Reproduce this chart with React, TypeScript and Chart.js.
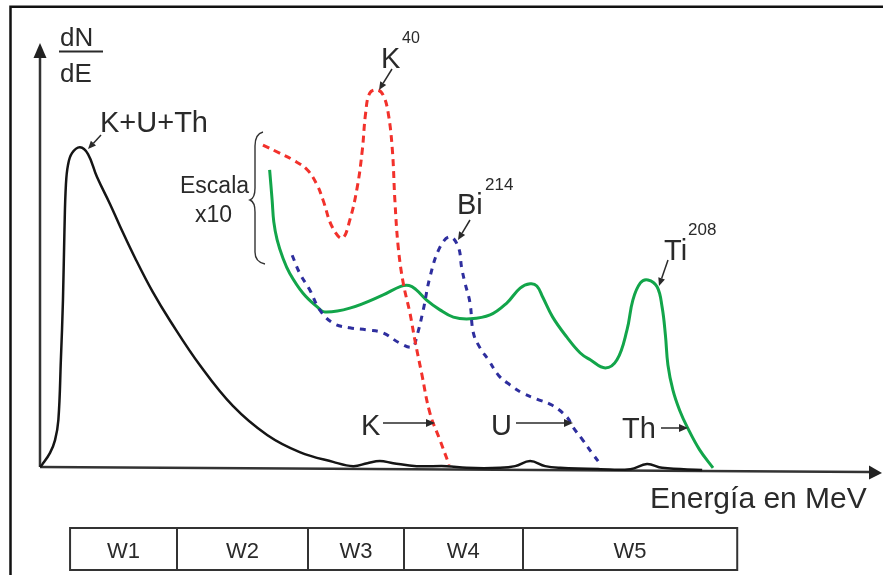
import { useEffect, useRef } from "react";
import { Chart, registerables } from "chart.js";

Chart.register(...registerables);

// Energy axis in arbitrary channel units (0 at the origin, 100 at the arrow base).
// Counts axis in arbitrary units (0 on the baseline, 100 at the top of the frame).

// Total spectrum K+U+Th
const totalEnergy = [0, 0.24, 1.2, 1.8, 2.2, 2.5, 2.75, 2.93, 3.1, 3.35, 3.83, 4.79, 5.75, 6.83, 8.38, 9.58, 11.4, 13.5, 15.6, 19.2, 23.1, 27.2, 31.1, 35.1, 37.5, 39.2, 40.7, 42.3, 45.1, 48.7, 51.1, 55.1, 56.9, 58.7, 60.5, 62.3, 67.1, 70.7, 72.7, 74.5, 79.3];
const totalCounts = [0, 0.5, 3.3, 6.3, 11.0, 25.1, 39.1, 55.5, 66.0, 70.7, 73.5, 74.9, 73.3, 67.9, 61.6, 56.4, 48.9, 41.0, 34.2, 23.7, 14.3, 7.5, 3.5, 1.2, 0.2, 0.9, 1.4, 0.9, 0.2, 0.2, -0.2, -0.2, 0.2, 1.4, 0.2, -0.2, -0.5, -0.5, 0.7, -0.2, -0.7];

// K40 spectrum (x10 scale)
const k40Energy = [26.7, 28.7, 30.3, 32.0, 33.2, 33.9, 35.0, 36.2, 37.1, 38.0, 38.6, 39.0, 39.5, 40.4, 41.1, 41.7, 42.2, 42.5, 42.9, 43.5, 44.3, 44.9, 45.7, 46.7, 47.9, 49.0];
const k40Counts = [75.4, 73.5, 71.9, 69.6, 66.0, 62.5, 56.2, 53.6, 57.8, 65.6, 74.2, 82.9, 87.6, 88.3, 87.1, 82.9, 74.2, 62.5, 51.5, 43.1, 36.1, 29.7, 22.0, 12.6, 6.3, 0.5];

// Bi214 spectrum (x10 scale)
const bi214Energy = [30.2, 31.1, 32.3, 33.5, 35.1, 37.1, 39.2, 41.1, 43.1, 44.6, 45.1, 45.9, 46.7, 47.9, 49.1, 50.1, 50.5, 50.9, 51.5, 51.9, 52.7, 53.7, 54.9, 56.3, 57.8, 59.5, 61.3, 63.1, 63.8, 65.0, 66.1, 67.1];
const bi214Counts = [49.6, 45.4, 41.5, 36.8, 33.7, 32.6, 32.1, 31.4, 29.0, 28.1, 30.4, 36.8, 44.5, 51.5, 53.9, 51.5, 46.6, 43.1, 38.4, 31.4, 27.9, 25.1, 21.5, 19.2, 17.3, 15.9, 14.5, 11.7, 9.4, 6.3, 3.3, 0.7];

// Tl208 spectrum (x10 scale)
const tl208Energy = [27.5, 27.8, 28.0, 28.4, 29.1, 29.9, 31.5, 33.2, 34.1, 37.1, 41.1, 43.2, 44.2, 45.0, 46.3, 47.9, 49.5, 51.5, 53.9, 55.9, 57.5, 58.7, 59.5, 60.2, 61.4, 63.1, 64.7, 65.9, 67.7, 69.1, 70.3, 71.0, 71.9, 72.8, 73.9, 74.5, 74.9, 75.2, 75.8, 76.6, 77.5, 79.0, 80.6];
const tl208Counts = [69.6, 62.5, 57.4, 53.2, 48.9, 45.4, 40.7, 37.5, 36.3, 37.2, 40.3, 42.3, 42.5, 41.6, 39.1, 36.8, 35.1, 34.7, 35.6, 38.4, 41.9, 42.9, 42.4, 39.8, 35.1, 30.4, 26.7, 25.1, 23.2, 25.1, 32.1, 39.1, 43.1, 43.8, 42.2, 37.5, 30.9, 23.9, 18.0, 13.3, 9.4, 4.0, -0.2];

// Energy windows shown in the table under the axis
const windowLabels = ["W1", "W2", "W3", "W4", "W5"];
const windowEdges = [3.6, 16.4, 32.1, 43.6, 57.8, 83.5];

const FONT = '"Liberation Sans", Arial, Helvetica, sans-serif';
const INK = "#2a2a2a";

const pts = (xs: number[], ys: number[]) => xs.map((x, i) => ({ x, y: ys[i] }));

function arrow(ctx: CanvasRenderingContext2D, x1: number, y1: number, x2: number, y2: number, len = 8, half = 3.5) {
  const a = Math.atan2(y2 - y1, x2 - x1);
  const bx = x2 - len * Math.cos(a);
  const by = y2 - len * Math.sin(a);
  ctx.beginPath();
  ctx.moveTo(x1, y1);
  ctx.lineTo(bx, by);
  ctx.stroke();
  ctx.beginPath();
  ctx.moveTo(x2, y2);
  ctx.lineTo(bx + half * Math.sin(a), by - half * Math.cos(a));
  ctx.lineTo(bx - half * Math.sin(a), by + half * Math.cos(a));
  ctx.closePath();
  ctx.fill();
}

function label(ctx: CanvasRenderingContext2D, text: string, x: number, y: number, size: number, align: CanvasTextAlign = "left") {
  ctx.font = `${size}px ${FONT}`;
  ctx.textAlign = align;
  ctx.textBaseline = "alphabetic";
  ctx.fillText(text, x, y);
}

const decorations = {
  id: "decorations",
  beforeDatasetsDraw(chart: Chart) {
    const { ctx } = chart;
    const xs = chart.scales.x;
    const ys = chart.scales.y;
    const x0 = xs.getPixelForValue(0);
    const y0 = ys.getPixelForValue(0);
    ctx.save();

    // outer frame (top and left edges)
    ctx.strokeStyle = "#111";
    ctx.lineWidth = 2.5;
    ctx.beginPath();
    ctx.moveTo(10.5, 575);
    ctx.lineTo(10.5, 6.8);
    ctx.lineTo(883, 6.8);
    ctx.stroke();

    // axes with arrowheads
    ctx.strokeStyle = "#333";
    ctx.fillStyle = "#222";
    ctx.lineWidth = 2.5;
    ctx.beginPath();
    ctx.moveTo(x0, y0);
    ctx.lineTo(x0, 56);
    ctx.stroke();
    ctx.beginPath();
    ctx.moveTo(x0, 43);
    ctx.lineTo(x0 - 6.5, 58);
    ctx.lineTo(x0 + 6.5, 58);
    ctx.closePath();
    ctx.fill();

    const xEnd = xs.right;
    ctx.beginPath();
    ctx.moveTo(x0, y0);
    ctx.lineTo(xEnd - 6, y0 + 5);
    ctx.stroke();
    ctx.beginPath();
    ctx.moveTo(xEnd + 7, y0 + 6);
    ctx.lineTo(xEnd - 6, y0 - 1.5);
    ctx.lineTo(xEnd - 6, y0 + 12.5);
    ctx.closePath();
    ctx.fill();
    ctx.restore();
  },
  afterDraw(chart: Chart) {
    const { ctx } = chart;
    const xs = chart.scales.x;
    ctx.save();
    ctx.fillStyle = INK;
    ctx.strokeStyle = INK;

    // dN/dE
    label(ctx, "dN", 60, 46, 26);
    label(ctx, "dE", 60, 82, 26);
    ctx.lineWidth = 2;
    ctx.beginPath();
    ctx.moveTo(59, 51.5);
    ctx.lineTo(103, 51.5);
    ctx.stroke();

    // peak labels
    label(ctx, "K+U+Th", 100, 132, 29);
    label(ctx, "K", 381, 68, 29);
    label(ctx, "40", 402, 43, 16);
    label(ctx, "Bi", 457, 214, 29);
    label(ctx, "214", 485, 190, 17);
    label(ctx, "Ti", 664, 260, 29);
    label(ctx, "208", 688, 235, 17);

    ctx.lineWidth = 1.5;
    arrow(ctx, 101, 135, 88, 149);
    arrow(ctx, 392, 69, 379, 90);
    arrow(ctx, 470, 220, 458, 240);
    arrow(ctx, 668, 260, 659, 286);

    // Escala x10 with brace
    label(ctx, "Escala", 180, 193, 23);
    label(ctx, "x10", 195, 222, 23);
    ctx.lineWidth = 1.4;
    ctx.strokeStyle = "#333";
    ctx.beginPath();
    ctx.moveTo(263, 132);
    ctx.quadraticCurveTo(255, 134, 255, 146);
    ctx.lineTo(255, 188);
    ctx.quadraticCurveTo(255, 198, 250, 200);
    ctx.quadraticCurveTo(255, 202, 255, 212);
    ctx.lineTo(255, 252);
    ctx.quadraticCurveTo(255, 262, 265, 264);
    ctx.stroke();

    // window markers near the baseline
    ctx.strokeStyle = INK;
    label(ctx, "K", 361, 435, 29);
    label(ctx, "U", 491, 435, 29);
    label(ctx, "Th", 622, 438, 29);
    ctx.lineWidth = 1.5;
    arrow(ctx, 383, 423, 435, 423, 9, 4);
    arrow(ctx, 516, 423, 573, 423, 9, 4);
    arrow(ctx, 661, 428, 688, 428, 9, 4);

    // axis title
    label(ctx, "Energía en MeV", 650, 508, 30);

    // window table
    const top = 528;
    const bottom = 570;
    ctx.strokeStyle = "#333";
    ctx.lineWidth = 2;
    const left = xs.getPixelForValue(windowEdges[0]);
    const right = xs.getPixelForValue(windowEdges[windowEdges.length - 1]);
    ctx.strokeRect(left, top, right - left, bottom - top);
    for (let i = 1; i < windowEdges.length - 1; i++) {
      const px = Math.round(xs.getPixelForValue(windowEdges[i]));
      ctx.beginPath();
      ctx.moveTo(px, top);
      ctx.lineTo(px, bottom);
      ctx.stroke();
    }
    windowLabels.forEach((w, i) => {
      const cx = (xs.getPixelForValue(windowEdges[i]) + xs.getPixelForValue(windowEdges[i + 1])) / 2;
      label(ctx, w, cx, 558, 22, "center");
    });
    ctx.restore();
  },
};

export default function App() {
  const canvasRef = useRef<HTMLCanvasElement | null>(null);

  useEffect(() => {
    const canvas = canvasRef.current;
    if (!canvas) return;
    const base = {
      pointRadius: 0,
      pointHoverRadius: 0,
      fill: false,
      clip: false as const,
      tension: 0.4,
      borderCapStyle: "butt" as const,
      borderJoinStyle: "round" as const,
    };
    const chart = new Chart(canvas, {
      type: "line",
      data: {
        datasets: [
          { ...base, label: "K+U+Th", data: pts(totalEnergy, totalCounts), borderColor: "#151515", borderWidth: 2.5 },
          { ...base, label: "K40", data: pts(k40Energy, k40Counts), borderColor: "#f2312b", borderWidth: 3, borderDash: [7, 5] },
          { ...base, label: "Bi214", data: pts(bi214Energy, bi214Counts), borderColor: "#2e2e9e", borderWidth: 3, borderDash: [6, 6] },
          { ...base, label: "Tl208", data: pts(tl208Energy, tl208Counts), borderColor: "#12a54a", borderWidth: 3 },
        ],
      },
      options: {
        responsive: false,
        animation: false,
        events: [],
        layout: { padding: { left: 40, right: 8, top: 40, bottom: 108 } },
        scales: {
          x: { type: "linear", min: 0, max: 100, display: false },
          y: { type: "linear", min: 0, max: 100, display: false },
        },
        plugins: { legend: { display: false }, tooltip: { enabled: false } },
      },
      plugins: [decorations],
    });
    return () => chart.destroy();
  }, []);

  return (
    <div style={{ position: "fixed", left: 0, top: 0, width: 883, height: 575, background: "#fff" }}>
      <canvas ref={canvasRef} width={883} height={575} style={{ display: "block" }} />
    </div>
  );
}
